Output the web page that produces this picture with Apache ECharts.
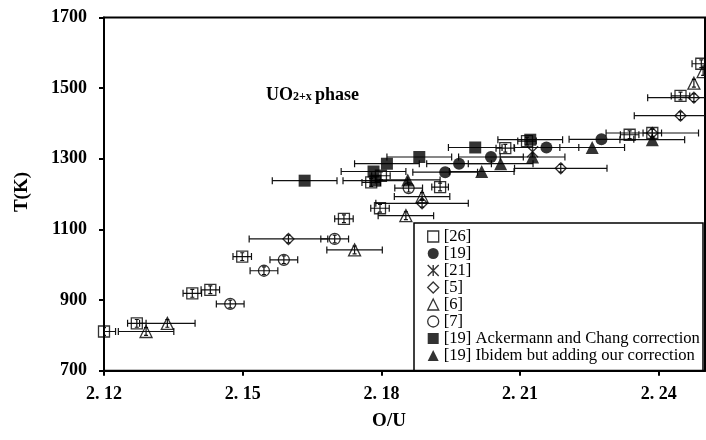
<!DOCTYPE html>
<html><head><meta charset="utf-8">
<script src="https://cdn.jsdelivr.net/npm/echarts@6/dist/echarts.min.js"></script>
<style>html,body{margin:0;padding:0;background:#fff}#c{width:706px;height:440px}</style>
</head><body><div id="c"></div>
<script>
// ---- data: [O/U, T(K), horizontal error] ----
const xTickValues = [2.12, 2.15, 2.18, 2.21, 2.24];
const xTickLabels = ['2. 12', '2. 15', '2. 18', '2. 21', '2. 24'];
const yTickLabels = ['700', '900', '1100', '1300', '1500', '1700'];

const ref26 = [
  [2.1200, 811, 0.0025], [2.1271, 834, 0.002], [2.1391, 919, 0.002], [2.1430, 929, 0.002],
  [2.1499, 1023, 0.002], [2.1719, 1130, 0.002], [2.1778, 1233, 0.002], [2.1797, 1160, 0.002],
  [2.1799, 1252, 0.002], [2.1927, 1220, 0.0018], [2.2068, 1330, 0.002], [2.2115, 1350, 0.002],
  [2.2337, 1368, 0.002], [2.2386, 1373, 0.002], [2.2447, 1478, 0.002], [2.2492, 1569, 0.002]
];
const ref19 = [
  [2.1938, 1262, 0.007], [2.1968, 1286, 0.007], [2.2037, 1305, 0.007],
  [2.2157, 1332, 0.007], [2.2276, 1355, 0.007]
];
const ref21 = [[2.2127, 1320, 0]];
const ref5 = [
  [2.1599, 1073, 0.0085], [2.1888, 1174, 0.01], [2.2188, 1273, 0.01],
  [2.2386, 1373, 0.01], [2.2447, 1422, 0.01], [2.2476, 1473, 0.01]
];
const ref6 = [
  [2.1291, 811, 0.006], [2.1337, 834, 0.006], [2.1742, 1042, 0.006], [2.1853, 1139, 0.006],
  [2.1888, 1193, 0.006], [2.2476, 1514, 0], [2.2496, 1547, 0]
];
const ref7 = [
  [2.1473, 889, 0.003], [2.1546, 983, 0.003], [2.1589, 1014, 0.003],
  [2.1699, 1073, 0.003], [2.1859, 1217, 0.003]
];
const ref19AC = [
  [2.1634, 1238, 0.007], [2.1783, 1264, 0.007], [2.1787, 1238, 0.007], [2.1812, 1286, 0.007],
  [2.1882, 1305, 0.007], [2.2003, 1332, 0.0058], [2.2122, 1354, 0.007]
];
const ref19Ib = [
  [2.1857, 1240, 0.007], [2.2017, 1264, 0.007], [2.2058, 1286, 0.007],
  [2.2127, 1305, 0.007], [2.2256, 1332, 0.007], [2.2386, 1354, 0.007]
];
// vertical (temperature) error of the open-symbol data sets
const yErrOpen = 11;

const names = ['[26]', '[19]', '[21]', '[5]', '[6]', '[7]',
  '[19] Ackermann and Chang correction', '[19] Ibidem but adding our correction'];

// ---- chart ----
const FONT = '"Liberation Serif", "Times New Roman", serif';
const ASTER = 'path://M0,0L10,10M10,0L0,10M5,0L5,10';
const open = {color: 'rgba(255,255,255,0)', borderColor: '#000', borderWidth: 1.3};
const filled = {color: '#000', borderColor: '#000', borderWidth: 0};

const defs = [
  {data: ref26, symbol: 'rect', size: 11, style: open, yErr: yErrOpen},
  {data: ref19, symbol: 'circle', size: 12, style: filled, yErr: 0},
  {data: ref21, symbol: ASTER, size: 11, style: {color: 'rgba(0,0,0,0)', borderColor: '#000', borderWidth: 1.4}, yErr: 0},
  {data: ref5, symbol: 'diamond', size: 11, style: open, yErr: yErrOpen},
  {data: ref6, symbol: 'triangle', size: 12, style: open, yErr: yErrOpen},
  {data: ref7, symbol: 'circle', size: 11, style: open, yErr: yErrOpen},
  {data: ref19AC, symbol: 'rect', size: 12, style: filled, yErr: 0},
  {data: ref19Ib, symbol: 'triangle', size: 13, style: filled, yErr: 0}
];

const errData = [];
defs.forEach(d => d.data.forEach(p => errData.push([p[0], p[1], p[2], d.yErr])));

function errRender(params, api) {
  const x = api.value(0), y = api.value(1), ex = api.value(2), ey = api.value(3);
  const st = {stroke: '#111', lineWidth: 1.2};
  const ch = [];
  const cap = 3.5;
  if (ex > 0) {
    const a = api.coord([x - ex, y]), b = api.coord([x + ex, y]);
    ch.push({type: 'line', shape: {x1: a[0], y1: a[1], x2: b[0], y2: b[1]}, style: st});
    ch.push({type: 'line', shape: {x1: a[0], y1: a[1] - cap, x2: a[0], y2: a[1] + cap}, style: st});
    ch.push({type: 'line', shape: {x1: b[0], y1: b[1] - cap, x2: b[0], y2: b[1] + cap}, style: st});
  }
  if (ey > 0) {
    const a = api.coord([x, y - ey]), b = api.coord([x, y + ey]);
    ch.push({type: 'line', shape: {x1: a[0], y1: a[1], x2: b[0], y2: b[1]}, style: st});
    ch.push({type: 'line', shape: {x1: a[0] - 2, y1: a[1], x2: a[0] + 2, y2: a[1]}, style: st});
    ch.push({type: 'line', shape: {x1: b[0] - 2, y1: b[1], x2: b[0] + 2, y2: b[1]}, style: st});
  }
  return {type: 'group', children: ch};
}

const series = [{
  type: 'custom', name: 'err', renderItem: errRender, data: errData, clip: true, z: 1,
  encode: {x: 0, y: 1}, silent: true
}];
defs.forEach((d, i) => series.push({
  type: 'scatter', name: names[i], data: d.data.map(p => [p[0], p[1]]),
  symbol: d.symbol, symbolSize: d.size, itemStyle: d.style, z: 2 + i, clip: true
}));

const chart = echarts.init(document.getElementById('c'), null, {renderer: 'canvas'});
chart.setOption({
  animation: false,
  backgroundColor: '#fff',
  grid: {left: 104, right: 1, top: 17.5, bottom: 69.3, show: true, borderColor: '#000', borderWidth: 2,
    backgroundColor: 'transparent', containLabel: false, outerBoundsMode: 'none'},
  xAxis: {
    type: 'value', min: 2.12, max: 2.25, interval: 0.03,
    axisLine: {lineStyle: {color: '#000', width: 2}},
    axisTick: {show: true, length: 5, lineStyle: {color: '#000', width: 2}},
    splitLine: {show: false},
    axisLabel: {
      margin: 15, color: '#000', fontFamily: FONT, fontWeight: 'bold', fontSize: 18,
      showMaxLabel: false, hideOverlap: false,
      formatter: v => {
        let best = 0;
        xTickValues.forEach((t, i) => { if (Math.abs(t - v) < Math.abs(xTickValues[best] - v)) best = i; });
        return Math.abs(xTickValues[best] - v) < 0.001 ? xTickLabels[best] : '';
      }
    }
  },
  yAxis: {
    type: 'value', min: 700, max: 1700, interval: 200,
    axisLine: {show: true, lineStyle: {color: '#000', width: 2}},
    axisTick: {show: true, length: 5, lineStyle: {color: '#000', width: 2}},
    splitLine: {show: false},
    axisLabel: {
      margin: 17, color: '#000', fontFamily: FONT, fontWeight: 'bold', fontSize: 18,
      formatter: v => yTickLabels[Math.round((v - 700) / 200)]
    }
  },
  legend: {
    orient: 'vertical', left: 427, top: 228, itemWidth: 11, itemHeight: 11, itemGap: 0,
    selectedMode: false, padding: 0,
    textStyle: {fontFamily: FONT, fontSize: 16.6, color: '#000', lineHeight: 16.7},
    data: names.map((n, i) => ({name: n, icon: defs[i].symbol, itemStyle: defs[i].style}))
  },
  graphic: [
    {type: 'rect', shape: {x: 414, y: 223, width: 289, height: 148}, style: {fill: 'rgba(255,255,255,0)', stroke: '#000', lineWidth: 1.5}, z: 100, silent: true},
    {type: 'text', x: 22, y: 192, rotation: Math.PI / 2, style: {text: 'T(K)', font: 'bold 19px ' + FONT, fill: '#000', align: 'center', verticalAlign: 'middle'}},
    {type: 'text', x: 389, y: 421, style: {text: 'O/U', font: 'bold 19px ' + FONT, fill: '#000', align: 'center', verticalAlign: 'middle'}},
    {type: 'text', x: 266, y: 86, style: {text: 'UO', font: 'bold 18px ' + FONT, fill: '#000', align: 'left', verticalAlign: 'alphabetic'}},
    {type: 'text', x: 293, y: 91, style: {text: '2+x', font: 'bold 12px ' + FONT, fill: '#000', align: 'left', verticalAlign: 'alphabetic'}},
    {type: 'text', x: 315, y: 86, style: {text: 'phase', font: 'bold 18px ' + FONT, fill: '#000', align: 'left', verticalAlign: 'alphabetic'}}
  ],
  series: series
});
</script></body></html>
